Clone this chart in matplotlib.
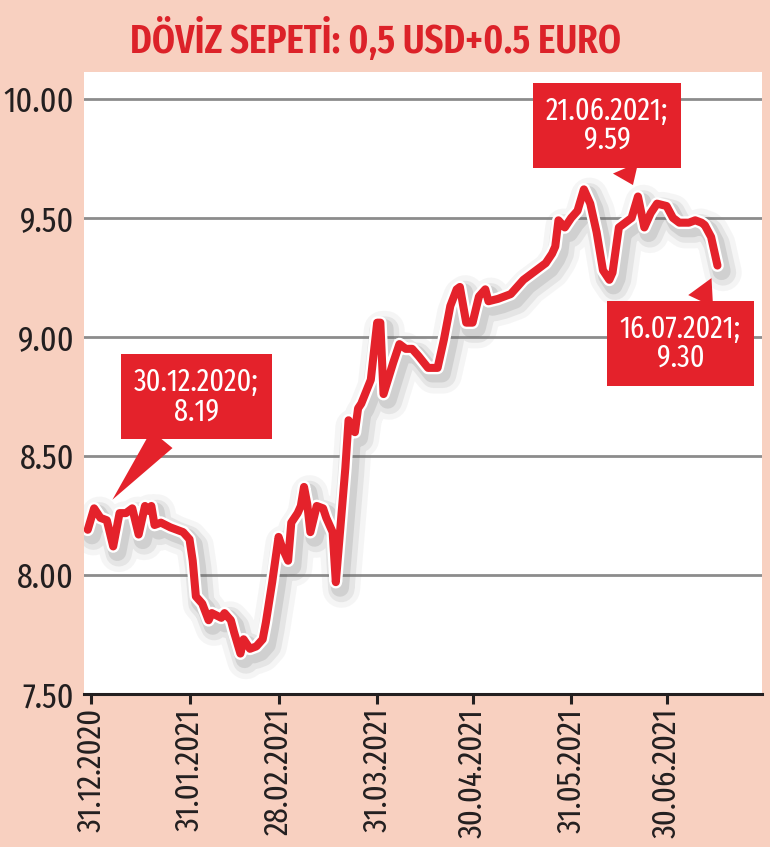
import numpy as np
import pandas as pd
import matplotlib
matplotlib.use("Agg")
import matplotlib.pyplot as plt
import matplotlib.patheffects as pe

# gun sayisi 31.12.2020'den itibaren, deger (0.5 USD + 0.5 EUR)
base_date = pd.Timestamp("2020-12-31")
day_offset = [-1, 1, 3, 5, 7, 9, 11, 13, 15, 17, 18, 19, 20, 22, 25, 29, 31, 32, 33, 35,
              37, 38, 41, 42, 44, 45, 47, 48, 50, 52, 54, 55, 57, 59, 60, 62, 63, 65, 66, 67,
              68, 69, 71, 73, 74, 76, 77, 80, 81, 83, 84, 85, 88, 90, 91, 92, 95, 97, 99, 101,
              103, 106, 109, 111, 113, 115, 116, 118, 120, 122, 124, 125, 128, 132, 136, 140, 143, 145, 146, 147,
              149, 151, 153, 155, 157, 159, 161, 163, 164, 166, 168, 170, 172, 174, 176, 178, 181, 183, 185, 188,
              190, 192, 193, 195, 197]
basket = [8.19, 8.28, 8.24, 8.23, 8.12, 8.26, 8.26, 8.28, 8.17, 8.29, 8.27, 8.29, 8.21, 8.22, 8.20, 8.18, 8.15, 8.06, 7.91, 7.88,
          7.81, 7.84, 7.82, 7.84, 7.81, 7.76, 7.67, 7.73, 7.69, 7.70, 7.73, 7.80, 7.97, 8.16, 8.12, 8.06, 8.22, 8.26, 8.29, 8.37,
          8.30, 8.18, 8.29, 8.28, 8.24, 8.18, 7.97, 8.45, 8.65, 8.60, 8.70, 8.72, 8.82, 9.06, 9.06, 8.76, 8.89, 8.97, 8.95, 8.95,
          8.92, 8.87, 8.87, 8.99, 9.13, 9.20, 9.21, 9.06, 9.06, 9.17, 9.20, 9.15, 9.16, 9.18, 9.24, 9.28, 9.31, 9.35, 9.38, 9.49,
          9.46, 9.50, 9.53, 9.62, 9.56, 9.44, 9.28, 9.24, 9.27, 9.46, 9.48, 9.50, 9.59, 9.46, 9.52, 9.56, 9.55, 9.50, 9.48, 9.48,
          9.49, 9.48, 9.47, 9.42, 9.30]

tick_dates = ["2020-12-31", "2021-01-31", "2021-02-28", "2021-03-31", "2021-04-30", "2021-05-31", "2021-06-30"]
tick_labels = ["31.12.2020", "31.01.2021", "28.02.2021", "31.03.2021", "30.04.2021", "31.05.2021", "30.06.2021"]
y_ticks = [7.50, 8.00, 8.50, 9.00, 9.50, 10.00]

# notlar: (tarih, etiket)
notes = [("2020-12-30", "30.12.2020;\n8.19"),
         ("2021-06-21", "21.06.2021;\n9.59"),
         ("2021-07-16", "16.07.2021;\n9.30")]

title = "DÖVİZ SEPETİ: 0,5 USD+0.5 EURO"

RED = "#e4222b"
PINK = "#f8d0c0"
FONT = ["Fira Sans Extra Condensed", "DejaVu Sans"]

dates = base_date + pd.to_timedelta(day_offset, unit="D")
series = pd.Series(basket, index=dates)

fig = plt.figure(figsize=(7.7, 8.47), dpi=100, facecolor=PINK)
ax = fig.add_axes([0.109, 0.1806, 0.8806, 0.7344])
ax.set_facecolor("white")

ax.plot(series.index, series.values, color=RED, lw=5.8, solid_joinstyle="round",
        solid_capstyle="round", zorder=5,
        path_effects=[pe.SimpleLineShadow(offset=(4, -5), shadow_color="#888888", alpha=0.08, linewidth=27),
                      pe.SimpleLineShadow(offset=(4, -5), shadow_color="#777777", alpha=0.12, linewidth=19),
                      pe.SimpleLineShadow(offset=(3, -4), shadow_color="#666666", alpha=0.16, linewidth=13),
                      pe.Stroke(linewidth=9.2, foreground="white"),
                      pe.Normal()])

x0 = base_date - pd.Timedelta(days=2.2)
x1 = base_date + pd.Timedelta(days=211)
ax.set_xlim(x0, x1)
ax.set_ylim(7.5, 10.113)

ax.set_yticks(y_ticks)
ax.set_yticklabels([f"{v:.2f}" for v in y_ticks], family=FONT, fontsize=25, color="#231f20")
ax.set_xticks(pd.to_datetime(tick_dates))
ax.set_xticklabels(tick_labels, rotation=90, family=FONT, fontsize=24, color="#231f20", va="top")

ax.grid(axis="y", color="#8c8c8c", lw=2)
ax.set_axisbelow(True)
for s in ["left", "right", "top"]:
    ax.spines[s].set_visible(False)
ax.spines["bottom"].set_color("#231f20")
ax.spines["bottom"].set_linewidth(2.2)
ax.spines["bottom"].set_zorder(6)
ax.tick_params(axis="y", length=0, pad=7)
ax.tick_params(axis="x", length=7, width=2.2, color="#231f20", pad=3, direction="out")

# kutu konumlari (piksel kaydirma) ve ok bosluklari
offsets = [(109, 133), (-31, 71), (-37, -78)]
gaps = [28, 9, 10]
for (d, label), off, gap in zip(notes, offsets, gaps):
    when = pd.Timestamp(d)
    val = series.loc[when]
    ax.annotate(label, xy=(when, val), xytext=off, textcoords="offset pixels",
                ha="center", va="center", color="white", family=FONT, fontsize=22,
                linespacing=0.95, zorder=8,
                bbox=dict(boxstyle="square,pad=0.42", fc=RED, ec="none"),
                arrowprops=dict(arrowstyle="wedge,tail_width=0.9,shrink_factor=0.5", fc=RED, ec="none",
                                shrinkA=0, shrinkB=gap))

fig.text(0.488, 0.953, title, ha="center", va="center", color="#dc2229", family=FONT,
         fontsize=29, fontweight="semibold")

fig.savefig("out.png", dpi=100, facecolor=PINK)
